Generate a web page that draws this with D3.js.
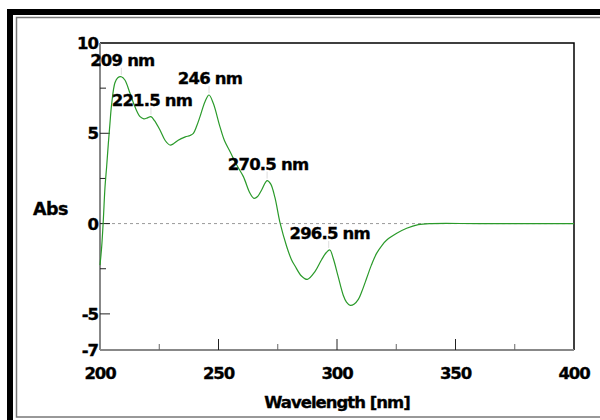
<!DOCTYPE html>
<html lang="en">
<head>
  <meta charset="UTF-8">
  <title>Absorbance spectrum</title>
  <script src="https://d3js.org/d3.v7.min.js"></script>
  <style>
    body { margin: 0; background: #fff; }
    text { font-family: "DejaVu Sans", sans-serif; font-weight: bold; fill: #000; stroke: #000; stroke-width: 0.35px; }
  </style>
</head>
<body>
<script>
// spectrum (nm, Abs)
var wavelength = [200, 200.7, 201.4, 202.1, 202.8, 203.5, 204.2, 204.9, 206.3, 207.5, 209, 210.5, 212.7, 214.8, 216.9, 218.5, 220, 221.5, 223, 225.3, 227.5, 229.5, 231, 233, 236, 238, 239.4, 240.8, 242.2, 244.3, 246, 247.8, 250.6, 252.5, 254.9, 257.7, 260.5, 263.3, 265, 266.5, 268.2, 270.5, 272, 273.8, 276, 278.8, 280.8, 282.3, 285, 287.5, 290.7, 293.5, 295.5, 297, 298.4, 300.5, 302.6, 304, 305.6, 307.3, 309, 310.5, 312.5, 314.5, 316.7, 319, 321, 325.2, 329.4, 334.3, 340, 360, 400];
var absorbance = [-2.3, -1.3, 0.2, 2.0, 3.15, 4.4, 5.55, 6.6, 7.8, 8.08, 8.13, 7.95, 7.2, 6.45, 5.92, 5.8, 5.85, 5.92, 5.7, 5.18, 4.6, 4.35, 4.42, 4.62, 4.8, 4.88, 5.0, 5.4, 5.92, 6.75, 7.12, 6.66, 5.37, 4.6, 3.98, 3.24, 2.6, 1.68, 1.4, 1.5, 1.86, 2.38, 2.2, 1.45, 0.02, -1.28, -2.0, -2.35, -2.9, -3.09, -2.66, -2.0, -1.6, -1.46, -1.92, -2.94, -3.95, -4.35, -4.53, -4.45, -4.2, -3.75, -3.03, -2.3, -1.65, -1.2, -0.91, -0.54, -0.26, -0.06, 0, 0, 0];

// labelled peaks
var peakNm = [209, 221.5, 246, 270.5, 296.5];
var peakAbs = [8.13, 5.92, 7.12, 2.38, -1.46];
var peakLabels = ["209 nm", "221.5 nm", "246 nm", "270.5 nm", "296.5 nm"];

// axis ticks
var xTicks = [200, 250, 300, 350, 400];
var xMinorTicks = [225, 275, 325, 375];
var yTicks = [10, 5, 0, -5, -7];
var yMinorTicks = [7.5, 2.5, -2.5];

var W = 600, H = 420;
var plot = {left: 100, right: 574, top: 43, bottom: 350};

var svg = d3.select("body").append("svg")
    .attr("width", W)
    .attr("height", H);

// window frame
svg.append("rect").attr("x", 7).attr("y", 9).attr("width", 600).attr("height", 420).attr("fill", "#000");
svg.append("rect").attr("x", 13).attr("y", 15).attr("width", 600).attr("height", 420).attr("fill", "#fff");
svg.append("rect").attr("x", 16.5).attr("y", 17.5).attr("width", 600).attr("height", 399.5)
    .attr("fill", "none").attr("stroke", "#777").attr("stroke-width", 1.5);

var x = d3.scaleLinear().domain([200, 400]).range([plot.left, plot.right]);
var y = d3.scaleLinear().domain([-7, 10]).range([plot.bottom, plot.top]);

// zero line
svg.append("line")
    .attr("x1", x(200)).attr("x2", x(400))
    .attr("y1", y(0)).attr("y2", y(0))
    .attr("stroke", "#999").attr("stroke-width", 1)
    .attr("stroke-dasharray", "3,3");

// top and right edges
svg.append("path")
    .attr("d", "M" + x(200) + "," + y(10) + "H" + x(400) + "V" + y(-7))
    .attr("fill", "none").attr("stroke", "#000").attr("stroke-width", 1.5);

// y axis
var yAxis = svg.append("g").attr("transform", "translate(" + plot.left + ",0)");
yAxis.append("line").attr("y1", y(10)).attr("y2", y(-7)).attr("stroke", "#888").attr("stroke-width", 2);
yAxis.selectAll(".ymaj").data(yTicks.slice(1, 4)).enter().append("line")
    .attr("x1", 0).attr("x2", 10)
    .attr("y1", function(d) { return y(d); }).attr("y2", function(d) { return y(d); })
    .attr("stroke", "#222");
yAxis.selectAll(".ymin").data(yMinorTicks).enter().append("line")
    .attr("x1", 0).attr("x2", 6)
    .attr("y1", function(d) { return y(d); }).attr("y2", function(d) { return y(d); })
    .attr("stroke", "#222");
yAxis.selectAll("text").data(yTicks).enter().append("text")
    .attr("x", -2)
    .attr("y", function(d) { return y(d); })
    .attr("dy", "0.36em")
    .attr("text-anchor", "end")
    .style("font-size", "16.5px")
    .style("letter-spacing", "-1px")
    .text(function(d) { return d < 0 ? "-" + Math.abs(d) : d; });

// x axis
var xAxis = svg.append("g").attr("transform", "translate(0," + plot.bottom + ")");
xAxis.append("line").attr("x1", x(200)).attr("x2", x(400)).attr("stroke", "#888").attr("stroke-width", 2);
xAxis.selectAll(".xmaj").data(xTicks.slice(1, 4)).enter().append("line")
    .attr("x1", function(d) { return x(d); }).attr("x2", function(d) { return x(d); })
    .attr("y1", 0).attr("y2", -11)
    .attr("stroke", "#222");
xAxis.selectAll(".xmin").data(xMinorTicks).enter().append("line")
    .attr("x1", function(d) { return x(d); }).attr("x2", function(d) { return x(d); })
    .attr("y1", 0).attr("y2", -6)
    .attr("stroke", "#666");
xAxis.selectAll("text").data(xTicks).enter().append("text")
    .attr("x", function(d) { return x(d); })
    .attr("y", 29)
    .attr("text-anchor", "middle")
    .style("font-size", "16.5px")
    .style("letter-spacing", "-1.2px")
    .text(function(d) { return d; });

// axis titles
svg.append("text")
    .attr("x", (plot.left + plot.right) / 2)
    .attr("y", 408)
    .attr("text-anchor", "middle")
    .style("font-size", "16.5px")
    .style("letter-spacing", "-1px")
    .text("Wavelength [nm]");

svg.append("text")
    .attr("x", 33)
    .attr("y", 215)
    .style("font-size", "17.5px")
    .style("letter-spacing", "-0.5px")
    .text("Abs");

// spectrum
var line = d3.line()
    .x(function(d, i) { return x(wavelength[i]); })
    .y(function(d) { return y(d); })
    .curve(d3.curveCatmullRom.alpha(0.5));

svg.append("path")
    .datum(absorbance)
    .attr("fill", "none")
    .attr("stroke", "#2a9a2a")
    .attr("stroke-width", 1.2)
    .attr("d", line);

// peak markers and labels
svg.selectAll(".peakmark").data(peakNm).enter().append("line")
    .attr("x1", function(d) { return x(d); }).attr("x2", function(d) { return x(d); })
    .attr("y1", function(d, i) { return y(peakAbs[i]) - 2; })
    .attr("y2", function(d, i) { return y(peakAbs[i]) - 9; })
    .attr("stroke", "#ddd");

svg.selectAll(".peaklabel").data(peakNm).enter().append("text")
    .attr("x", function(d) { return x(d) + 1; })
    .attr("y", function(d, i) { return y(peakAbs[i]) - 11; })
    .attr("text-anchor", "middle")
    .style("font-size", "16.5px")
    .style("letter-spacing", "-0.8px")
    .text(function(d, i) { return peakLabels[i]; });
</script>
</body>
</html>
